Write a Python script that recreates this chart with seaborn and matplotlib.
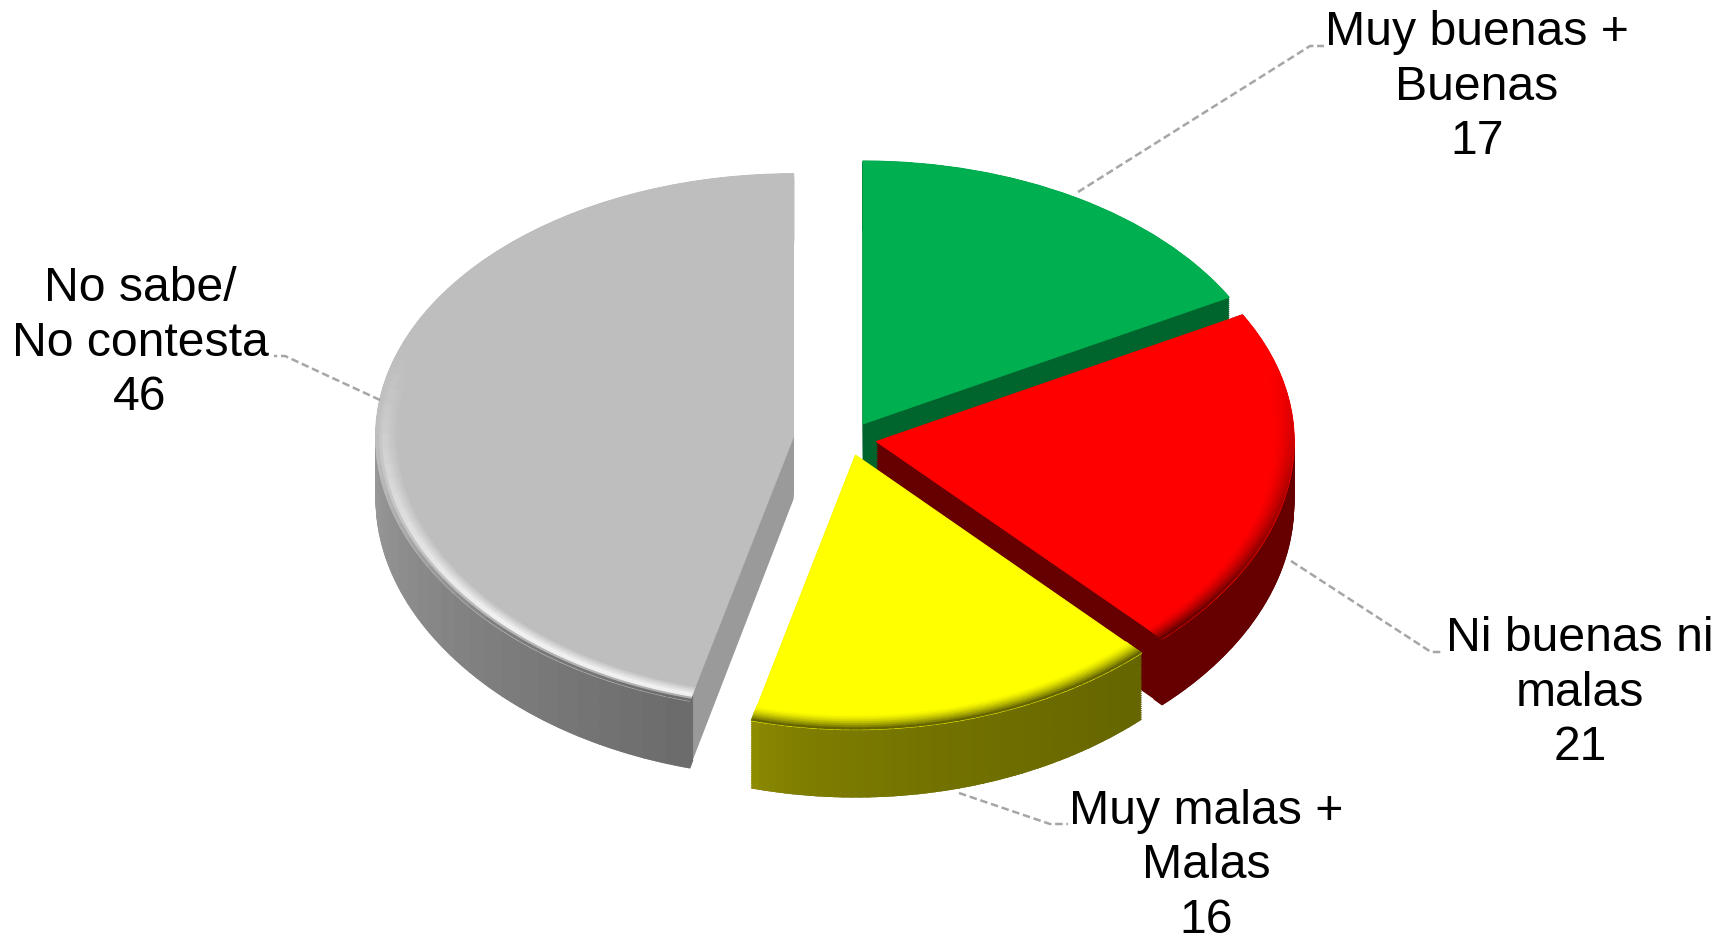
# Opinion pie chart drawn with a fake 3D depth
import numpy as np
import matplotlib
matplotlib.use("Agg")
import matplotlib.pyplot as plt
from matplotlib.patches import Wedge
from matplotlib.colors import to_rgb
import seaborn as sns

# ------------------------------------------------------------
# Data
# ------------------------------------------------------------
categories = ["Muy buenas +\nBuenas", "Ni buenas ni\nmalas", "Muy malas +\nMalas", "No sabe/\nNo contesta"]
values = [17, 21, 16, 46]

# ------------------------------------------------------------
# Styles
# ------------------------------------------------------------
face_colors = ["#00B050", "#FF0000", "#FFFF00", "#BEBEBE"]
cut_colors = ["#00642D", "#660000", "#666600", "#9A9A9A"]
wall_start = ["#00642D", "#660000", "#8E8B00", "#D0D0D0"]   # colour at theta1
wall_end = ["#00642D", "#660000", "#666600", "#6C6C6C"]     # colour at theta2
wall_gamma = [1, 1, 0.5, 1]
bevel_colors = ["#00642D", "#660000", "#666600", "#F6F6F6"]
nudges = [(0.016, -0.025), (0.0, 0.01), (0.024, 0.04), (0.0, 0.0)]
draw_order = [0, 3, 1, 2]

sns.set_theme(style="white")
plt.rcParams["font.family"] = ["Liberation Sans", "DejaVu Sans"]

W, H = 1733, 941
CX, CY, RX, RY = 835, 440, 418, 263   # pie centre and radii, pixels
DEPTH = 62 / RY
N_LAYERS = 32
N_BINS = 50
RINGS = np.linspace(0.945, 1.0, 9)
PERSP = 0.04   # front of the pie is stretched a little


def mix(a, b, t):
    a, b = np.array(to_rgb(a)), np.array(to_rgb(b))
    return tuple(a + (b - a) * t)


def persp(y):
    y = np.asarray(y, float)
    return np.where(y < 0, y - PERSP * y ** 2, y)


def persp_inv(t):
    t = np.asarray(t, float)
    return np.where(t < 0, (1 - np.sqrt(1 - 4 * PERSP * t)) / (2 * PERSP), t)


fig, ax = plt.subplots(figsize=(W / 100, H / 100), dpi=100)
fig.subplots_adjust(0, 0, 1, 1)

wedges, _ = ax.pie(
    values,
    colors=face_colors,
    explode=[0.1] * len(values),
    startangle=90,
    counterclock=False,
    wedgeprops={"linewidth": 0.7},
)
for w, c in zip(wedges, face_colors):
    w.set_edgecolor(c)

ax.set_aspect("auto")
ax.set_yscale("function", functions=(persp, persp_inv))
ax.set_xlim(-CX / RX, (W - CX) / RX)
ax.set_ylim(float(persp_inv((CY - H) / RY)), CY / RY)
ax.axis("off")

# ------------------------------------------------------------
# Depth, wall shading and bevel for each slice
# ------------------------------------------------------------
for rank, i in enumerate(draw_order):
    w = wedges[i]
    base = rank * 10
    w.set_zorder(base + 5)
    w.set_center((w.center[0] + nudges[i][0], w.center[1] + nudges[i][1]))
    x0, y0 = w.center

    # cut faces
    for off in np.linspace(DEPTH, 0, N_LAYERS):
        ax.add_patch(Wedge((x0, y0 - off), w.r, w.theta1, w.theta2,
                           facecolor=cut_colors[i], linewidth=0, zorder=base + 1))

    edges = np.linspace(w.theta1, w.theta2, N_BINS + 1)
    for b in range(N_BINS):
        t1, t2 = edges[b], edges[b + 1]
        mid = np.radians((t1 + t2) / 2)
        wall = mix(wall_start[i], wall_end[i], (b / (N_BINS - 1)) ** wall_gamma[i])

        # outer wall
        for off in np.linspace(DEPTH, 0, N_LAYERS):
            ax.add_patch(Wedge((x0, y0 - off), w.r, t1 - 0.1, t2 + 0.1, width=0.03,
                               facecolor=wall, linewidth=0, zorder=base + 2))

        # rounded edge on the top face
        strength = float(np.clip(0.3 - np.sin(mid), 0, 1))
        if strength == 0:
            continue
        for k in range(len(RINGS) - 1):
            f = k / (len(RINGS) - 2)
            if i == 3:
                col = mix(face_colors[i], mix(face_colors[i], bevel_colors[i], strength), min(f * 1.6, 1))
                if f > 0.7:
                    col = mix(col, wall, (f - 0.7) / 0.3 * strength)
            else:
                col = mix(face_colors[i], bevel_colors[i], f ** 1.5 * strength)
            ax.add_patch(Wedge((x0, y0), RINGS[k + 1], t1 - 0.1, t2 + 0.1,
                               width=RINGS[k + 1] - RINGS[k] + 0.002,
                               facecolor=col, linewidth=0, zorder=base + 6))

# ------------------------------------------------------------
# Labels and leader lines (pixel positions turned into axes fractions)
# ------------------------------------------------------------
label_pos = [(1477, 87), (1580, 693), (1206, 866), (140, 343)]
leaders = [
    ([1078, 1310, 1324], [192, 46, 46]),
    ([1291, 1431, 1443], [561, 652, 652]),
    ([959, 1050, 1068], [793, 824, 824]),
    ([380, 285, 274], [400, 356, 356]),
]

for cat, val, (lx, ly), (px, py) in zip(categories, values, label_pos, leaders):
    ax.text(lx / W, 1 - ly / H, f"{cat}\n{val}", transform=ax.transAxes,
            ha="center", va="center", fontsize=34.7,
            color="black", linespacing=1.27, zorder=100)
    ax.plot(np.array(px) / W, 1 - np.array(py) / H, transform=ax.transAxes,
            color="#A6A6A6", lw=1.8, ls=(0, (3, 1.5)), zorder=99)

fig.savefig("out.png", dpi=100, facecolor="white")
